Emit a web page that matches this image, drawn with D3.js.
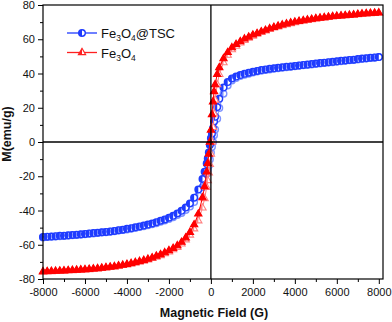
<!DOCTYPE html>
<html>
<head>
<meta charset="utf-8">
<script src="https://cdn.jsdelivr.net/npm/d3@7"></script>
<style>
	body { margin: 0; background: #fff; }
	svg { display: block; font-family: "Liberation Sans", Arial, sans-serif; }
</style>
</head>
<body>
<div id="chart"></div>
<script>
// Applied field (G), shared by every branch
var field = [-8000, -7800, -7600, -7400, -7200, -7000, -6800, -6600, -6400, -6200,
	-6000, -5800, -5600, -5400, -5200, -5000, -4800, -4600, -4400, -4200,
	-4000, -3800, -3600, -3400, -3200, -3000, -2800, -2600, -2400, -2200,
	-2000, -1800, -1600, -1400, -1200, -1000, -800, -600, -400,
	-300, -200, -150, -100, -50, 0, 50, 100, 150, 200, 300,
	400, 600, 800, 1000, 1200, 1400, 1600, 1800, 2000, 2200,
	2400, 2600, 2800, 3000, 3200, 3400, 3600, 3800, 4000, 4200,
	4400, 4600, 4800, 5000, 5200, 5400, 5600, 5800, 6000, 6200,
	6400, 6600, 6800, 7000, 7200, 7400, 7600, 7800, 8000];

// Fe3O4@TSC, descending and ascending branch (emu/g)
var tscDown = [-55.5, -55.3, -55.2, -55.0, -54.8, -54.7, -54.5, -54.3, -54.1, -53.9,
	-53.7, -53.4, -53.2, -53.0, -52.7, -52.5, -52.2, -51.9, -51.5, -51.2,
	-50.7, -50.3, -49.8, -49.3, -48.8, -48.2, -47.6, -46.8, -46.0, -45.2,
	-44.2, -43.1, -41.7, -40.2, -38.3, -35.9, -32.5, -27.8, -21.6,
	-17.3, -12.5, -9.6, -6.2, -1.8, 2.2, 4.8, 8.0, 12.0, 14.7, 20.4,
	25.2, 31.8, 35.0, 37.1, 38.2, 39.1, 39.8, 40.5, 41.0, 41.5,
	42.0, 42.4, 42.8, 43.0, 43.3, 43.6, 43.9, 44.1, 44.4, 44.7,
	45.0, 45.2, 45.5, 45.8, 46.1, 46.3, 46.6, 46.8, 47.1, 47.4,
	47.6, 47.9, 48.1, 48.4, 48.7, 48.9, 49.2, 49.4, 49.6];
var tscUp = [-55.7, -55.5, -55.4, -55.2, -55.0, -54.9, -54.7, -54.5, -54.3, -54.1,
	-53.9, -53.6, -53.4, -53.2, -52.9, -52.7, -52.4, -52.1, -51.7, -51.4,
	-51.1, -50.7, -50.2, -49.7, -49.2, -48.6, -48.0, -47.4, -46.6, -45.8,
	-45.0, -43.9, -42.7, -41.4, -39.7, -37.7, -35.1, -31.2, -26.4,
	-22.7, -18.5, -16.4, -13.8, -10.2, -6.2, -2.8, 0.0, 4.0, 7.3, 13.6,
	19.8, 28.2, 33.0, 35.9, 37.4, 38.5, 39.2, 39.9, 40.6, 41.1,
	41.6, 42.0, 42.4, 42.8, 43.1, 43.4, 43.7, 43.9, 44.2, 44.5,
	44.8, 45.0, 45.3, 45.6, 45.9, 46.1, 46.4, 46.6, 46.9, 47.2,
	47.4, 47.7, 47.9, 48.2, 48.5, 48.7, 49.0, 49.2, 49.6];

// Fe3O4, descending and ascending branch (emu/g)
var feDown = [-75.7, -75.6, -75.5, -75.4, -75.3, -75.2, -75.0, -74.9, -74.8, -74.6,
	-74.5, -74.3, -74.1, -73.9, -73.6, -73.3, -73.0, -72.7, -72.3, -71.9,
	-71.4, -70.9, -70.3, -69.7, -69.1, -68.4, -67.6, -66.6, -65.7, -64.6,
	-63.4, -62.1, -60.5, -58.5, -55.9, -52.7, -48.3, -42.0, -32.5,
	-26.0, -17.5, -12.5, -7.0, 0.0, 7.0, 16.0, 23.5, 29.5, 33.5, 39.5,
	43.5, 48.7, 52.3, 55.1, 57.0, 58.7, 60.2, 61.3, 62.5, 63.4,
	64.4, 65.3, 66.2, 67.0, 67.7, 68.4, 69.0, 69.6, 70.1, 70.5,
	70.9, 71.3, 71.7, 72.1, 72.4, 72.7, 73.0, 73.3, 73.5, 73.7,
	73.9, 74.1, 74.3, 74.6, 74.8, 75.0, 75.2, 75.3, 75.4];
var feUp = [-75.9, -75.8, -75.7, -75.6, -75.5, -75.4, -75.2, -75.1, -75.0, -74.8,
	-74.7, -74.5, -74.3, -74.1, -73.8, -73.5, -73.2, -72.9, -72.5, -72.1,
	-71.8, -71.3, -70.7, -70.1, -69.5, -68.8, -68.0, -67.2, -66.3, -65.2,
	-64.2, -62.9, -61.5, -59.5, -57.1, -54.3, -50.7, -46.0, -38.5,
	-33.0, -26.5, -22.5, -18.0, -13.0, -7.0, 0.0, 8.5, 16.5, 24.5, 33.5,
	39.5, 46.3, 50.7, 53.9, 56.0, 57.9, 59.4, 60.7, 61.9, 63.0,
	64.0, 64.9, 65.8, 66.6, 67.3, 68.0, 68.6, 69.2, 69.7, 70.3,
	70.7, 71.1, 71.5, 71.9, 72.2, 72.5, 72.8, 73.1, 73.3, 73.5,
	73.7, 73.9, 74.1, 74.4, 74.6, 74.8, 75.0, 75.1, 75.4];

// Axis ticks
var xTicks = [-8000, -6000, -4000, -2000, 0, 2000, 4000, 6000, 8000];
var xMinor = [-7000, -5000, -3000, -1000, 1000, 3000, 5000, 7000];
var yTicks = [-80, -60, -40, -20, 0, 20, 40, 60, 80];
var yMinor = [-70, -50, -30, -10, 10, 30, 50, 70];

var W = 392, H = 322;
var svg = d3.select('#chart').append('svg').attr('width', W).attr('height', H);
svg.append('rect').attr('width', W).attr('height', H).attr('fill', '#fff');

var x = d3.scaleLinear().domain([-8000, 8200]).range([43, 383]);
var y = d3.scaleLinear().domain([-80, 80]).range([279, 5]);

// Minor and major ticks, outward
svg.append('g').attr('transform', 'translate(0,279)')
	.call(d3.axisBottom(x).tickValues(xMinor).tickSize(3).tickFormat(''))
	.call(g => g.select('.domain').remove());
svg.append('g').attr('transform', 'translate(43,0)')
	.call(d3.axisLeft(y).tickValues(yMinor).tickSize(3).tickFormat(''))
	.call(g => g.select('.domain').remove());
var xAxis = svg.append('g').attr('transform', 'translate(0,279)')
	.call(d3.axisBottom(x).tickValues(xTicks).tickSize(5).tickPadding(4).tickFormat(d => String(d)));
var yAxis = svg.append('g').attr('transform', 'translate(43,0)')
	.call(d3.axisLeft(y).tickValues(yTicks).tickSize(5).tickPadding(3).tickFormat(d => String(d)));
[xAxis, yAxis].forEach(a => {
	a.select('.domain').remove();
	a.selectAll('text').attr('font-size', 11).attr('fill', '#111')
		.attr('font-family', '"Liberation Sans", Arial, sans-serif');
});
svg.selectAll('.tick line').attr('stroke', '#000').attr('stroke-width', 1);

// Series
var series = [
	{ down: tscDown, up: tscUp, color: '#1f3cff', light: '#7d92ff', shape: 'circle' },
	{ down: feDown, up: feUp, color: '#ff0000', light: '#ff8080', shape: 'triangle' }
];

var plot = svg.append('g');
var line = d3.line().x(d => x(d[0])).y(d => y(d[1]));

// Half-filled symbol (left half solid) or fully solid one
function marker(g, shape, color, full) {
	if (shape === 'circle') {
		var r = 3.3;
		g.append('circle').attr('r', r).attr('fill', full ? color : '#fff').attr('stroke', color).attr('stroke-width', 1.4);
		g.append('path').attr('d', 'M0,' + (-r) + 'A' + r + ',' + r + ' 0 0 0 0,' + r + 'Z').attr('fill', color);
	} else {
		var s = 4.2;
		var h = s * 0.87;
		g.append('path').attr('d', 'M0,' + (-s) + 'L' + h + ',' + (s / 2) + 'L' + (-h) + ',' + (s / 2) + 'Z')
			.attr('fill', full ? color : '#fff').attr('stroke', color).attr('stroke-width', 1.1);
		g.append('path').attr('d', 'M0,' + (-s) + 'L0,' + (s / 2) + 'L' + (-h) + ',' + (s / 2) + 'Z').attr('fill', color);
	}
}

series.forEach(s => {
	[{ m: s.up, c: s.light, full: false }, { m: s.down, c: s.color, full: s.shape === 'triangle' }].forEach(b => {
		var pts = field.map((f, i) => [f, b.m[i]]);
		plot.append('path').datum(pts).attr('d', line)
			.attr('fill', 'none').attr('stroke', b.c).attr('stroke-width', 1);
		plot.selectAll(null).data(pts).enter().append('g')
			.attr('transform', d => 'translate(' + x(d[0]) + ',' + y(d[1]) + ')')
			.each(function() { marker(d3.select(this), s.shape, b.c, b.full); });
	});
});

// Zero lines and frame
svg.append('line').attr('x1', 43).attr('x2', 383).attr('y1', y(0)).attr('y2', y(0))
	.attr('stroke', '#000').attr('stroke-width', 1.3);
svg.append('line').attr('x1', x(0)).attr('x2', x(0)).attr('y1', 5).attr('y2', 279)
	.attr('stroke', '#000').attr('stroke-width', 1.3);
svg.append('rect').attr('x', 43).attr('y', 5).attr('width', 340).attr('height', 274)
	.attr('fill', 'none').attr('stroke', '#000').attr('stroke-width', 1.2);

// Axis titles
svg.append('text').attr('x', 214).attr('y', 317).attr('text-anchor', 'middle')
	.attr('font-size', 12.5).attr('font-weight', 'bold').attr('fill', '#111')
	.text('Magnetic Field (G)');
svg.append('text').attr('transform', 'translate(11,134) rotate(-90)').attr('text-anchor', 'middle')
	.attr('font-size', 12.5).attr('font-weight', 'bold').attr('fill', '#111')
	.text('M(emu/g)');

// Legend
var legend = [
	{ label: 'Fe', sub1: '3', mid: 'O', sub2: '4', tail: '@TSC', color: '#1f3cff', shape: 'circle' },
	{ label: 'Fe', sub1: '3', mid: 'O', sub2: '4', tail: '', color: '#ff2020', shape: 'triangle' }
];
legend.forEach((l, i) => {
	var ly = 33 + i * 19.5;
	svg.append('line').attr('x1', 67).attr('x2', 97).attr('y1', ly).attr('y2', ly)
		.attr('stroke', l.color).attr('stroke-width', 1.3);
	marker(svg.append('g').attr('transform', 'translate(82,' + ly + ')'), l.shape, l.color, false);
	var t = svg.append('text').attr('x', 101).attr('y', ly + 5).attr('font-size', 13).attr('fill', '#111');
	t.append('tspan').text(l.label);
	t.append('tspan').attr('font-size', 8.5).attr('dy', 3).text(l.sub1);
	t.append('tspan').attr('dy', -3).text(l.mid);
	t.append('tspan').attr('font-size', 8.5).attr('dy', 3).text(l.sub2);
	if (l.tail) t.append('tspan').attr('dy', -3).text(l.tail);
});
</script>
</body>
</html>
